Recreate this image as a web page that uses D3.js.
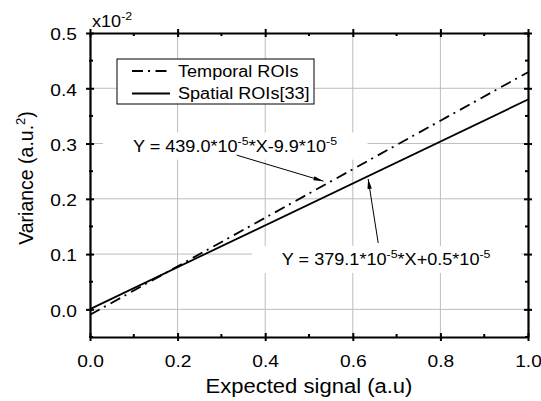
<!DOCTYPE html>
<html>
<head>
<meta charset="utf-8">
<script src="https://cdn.jsdelivr.net/npm/d3@7"></script>
<style>
  body { margin: 0; background: #fff; }
  text { font-family: "Liberation Sans", Arial, sans-serif; fill: #000; }
</style>
</head>
<body>
<svg id="chart" width="541" height="401"></svg>
<script>
// series (y in units of 1e-2)
const xValues = [0.0, 1.0];
const temporalY = [-0.0099, 0.4291];
const spatialY = [0.0005, 0.3796];
const seriesNames = ['Temporal ROIs', 'Spatial ROIs[33]'];

const xTicks = [0.0, 0.2, 0.4, 0.6, 0.8, 1.0];
const yTicks = [0.0, 0.1, 0.2, 0.3, 0.4, 0.5];
const xMinor = [0.1, 0.3, 0.5, 0.7, 0.9];
const yMinor = [-0.05, 0.05, 0.15, 0.25, 0.35, 0.45];

// annotations: text parts, label anchor, arrow tail, arrow head (data units)
const notes = [
  { parts: ['Y = 439.0*10', '-5', '*X-9.9*10', '-5'], at: [0.098, 0.285], from: [0.335, 0.279], to: [0.533, 0.232] },
  { parts: ['Y = 379.1*10', '-5', '*X+0.5*10', '-5'], at: [0.438, 0.080], from: [0.658, 0.120], to: [0.635, 0.236] }
];

const margin = { top: 33, right: 13, bottom: 64, left: 90 };
const width = 541, height = 401;
const SX = 1.13;            // the original's lettering is a bit wide
const DASH = '11,5,2,5.5';

const svg = d3.select('#chart');
const x = d3.scaleLinear().domain([0, 1]).range([margin.left, width - margin.right]);
const y = d3.scaleLinear().domain([-0.05, 0.5]).range([height - margin.bottom, margin.top]);

const [x0, x1] = x.range();
const [y0, y1] = y.range();

// widen a text horizontally around its own x anchor
function widen(sel, sx) {
  sel.each(function () {
    const ax = +(this.getAttribute('x') || 0);
    d3.select(this).attr('transform', `translate(${ax},0) scale(${sx},1) translate(${-ax},0)`);
  });
}

// grid
svg.append('g').selectAll('line').data(xTicks.slice(1, -1)).join('line')
  .attr('x1', d => x(d)).attr('x2', d => x(d)).attr('y1', y0).attr('y2', y1)
  .attr('stroke', '#bdbdbd').attr('stroke-width', 1);
svg.append('g').selectAll('line').data(yTicks.slice(0, -1)).join('line')
  .attr('y1', d => y(d)).attr('y2', d => y(d)).attr('x1', x0).attr('x2', x1)
  .attr('stroke', '#bdbdbd').attr('stroke-width', 1);

// lines
const line = d3.line().x(d => x(d[0])).y(d => y(d[1]));
svg.append('path')
  .datum(d3.zip(xValues, temporalY))
  .attr('d', line).attr('fill', 'none').attr('stroke', '#000')
  .attr('stroke-width', 1.8).attr('stroke-dasharray', DASH);
svg.append('path')
  .datum(d3.zip(xValues, spatialY))
  .attr('d', line).attr('fill', 'none').attr('stroke', '#000')
  .attr('stroke-width', 1.8);

// equation labels on white boxes
notes.forEach(n => {
  const g = svg.append('g')
    .attr('transform', `translate(${x(n.at[0])},${y(n.at[1])}) scale(${SX},1)`);
  const box = g.append('rect').attr('fill', '#fff');
  const t = g.append('text').attr('font-size', 16);
  n.parts.forEach((p, i) => {
    const sup = i % 2 === 1;
    t.append('tspan').text(p)
      .attr('font-size', sup ? 11 : 16)
      .attr('dy', sup ? -7 : (i > 0 ? 7 : 0));
  });
  const b = t.node().getBBox();
  const px = 30 / SX;
  box.attr('x', b.x - px).attr('y', b.y - 2)
    .attr('width', b.width + 2 * px).attr('height', b.height + 6);
});

// arrows
svg.append('defs').append('marker').attr('id', 'arr')
  .attr('viewBox', '0 0 10 6').attr('refX', 10).attr('refY', 3)
  .attr('markerWidth', 10).attr('markerHeight', 6).attr('markerUnits', 'userSpaceOnUse')
  .attr('orient', 'auto')
  .append('path').attr('d', 'M0,0.8 L10,3 L0,5.2 Z').attr('fill', '#000');
notes.forEach(n => {
  svg.append('line')
    .attr('x1', x(n.from[0])).attr('y1', y(n.from[1]))
    .attr('x2', x(n.to[0])).attr('y2', y(n.to[1]))
    .attr('stroke', '#000').attr('stroke-width', 1)
    .attr('marker-end', 'url(#arr)');
});

// axes: bottom/left labelled, top/right mirrored
const axBottom = svg.append('g').attr('transform', `translate(0,${y0})`)
  .call(d3.axisBottom(x).tickValues(xTicks).tickFormat(d3.format('.1f')).tickSizeInner(-4).tickSizeOuter(0).tickPadding(18));
const axTop = svg.append('g').attr('transform', `translate(0,${y1})`)
  .call(d3.axisTop(x).tickValues(xTicks).tickFormat('').tickSizeInner(-4).tickSizeOuter(0));
const axLeft = svg.append('g').attr('transform', `translate(${x0},0)`)
  .call(d3.axisLeft(y).tickValues(yTicks).tickFormat(d3.format('.1f')).tickSizeInner(-4).tickSizeOuter(0).tickPadding(13));
const axRight = svg.append('g').attr('transform', `translate(${x1},0)`)
  .call(d3.axisRight(y).tickValues(yTicks).tickFormat('').tickSizeInner(-4).tickSizeOuter(0));

[axBottom, axTop, axLeft, axRight].forEach(g => {
  g.select('.domain').attr('stroke', '#000').attr('stroke-width', 2.2);
  g.selectAll('.tick line').attr('stroke', '#000').attr('stroke-width', 2);
  g.selectAll('.tick text').attr('font-size', 17).attr('font-family', '"Liberation Sans", Arial, sans-serif').attr('fill', '#000');
});
axBottom.selectAll('.tick line').attr('y1', 4);
axTop.selectAll('.tick line').attr('y1', -4);
axLeft.selectAll('.tick line').attr('x1', -4);
axRight.selectAll('.tick line').attr('x1', 4);
axLeft.selectAll('.tick text').attr('dy', '0.4em');
widen(axBottom.selectAll('.tick text'), SX);
widen(axLeft.selectAll('.tick text'), SX);

// minor ticks
const minorG = svg.append('g').attr('stroke', '#000').attr('stroke-width', 2);
xMinor.forEach(v => {
  minorG.append('line').attr('x1', x(v)).attr('x2', x(v)).attr('y1', y0).attr('y2', y0 - 3);
  minorG.append('line').attr('x1', x(v)).attr('x2', x(v)).attr('y1', y1).attr('y2', y1 + 3);
});
yMinor.forEach(v => {
  minorG.append('line').attr('y1', y(v)).attr('y2', y(v)).attr('x1', x0 - 1).attr('x2', x0 + 3);
  minorG.append('line').attr('y1', y(v)).attr('y2', y(v)).attr('x1', x1 + 1).attr('x2', x1 - 3);
});

// axis titles
const xt = svg.append('text')
  .attr('x', (x0 + x1) / 2).attr('y', 393)
  .attr('text-anchor', 'middle').attr('font-size', 19.5)
  .text('Expected signal (a.u)');
widen(xt, SX);
const yt = svg.append('text')
  .attr('transform', `translate(33,178) rotate(-90)`)
  .attr('text-anchor', 'middle').attr('font-size', 19.5);
yt.append('tspan').text('Variance (a.u.');
yt.append('tspan').text('2').attr('font-size', 13).attr('dy', -8);
yt.append('tspan').text(')').attr('dy', 8);

// exponent label
const ex = svg.append('text').attr('x', x0 + 2).attr('y', 27).attr('font-size', 16);
ex.append('tspan').text('x10');
ex.append('tspan').text('-2').attr('font-size', 11).attr('dy', -7);
widen(ex, SX);

// legend
const lg = svg.append('g').attr('transform', 'translate(117,59)');
lg.append('rect').attr('width', 197).attr('height', 45)
  .attr('fill', '#fff').attr('stroke', '#000').attr('stroke-width', 1);
seriesNames.forEach((name, i) => {
  const yy = 12 + i * 22.5;
  lg.append('line').attr('x1', 15).attr('x2', 53).attr('y1', yy).attr('y2', yy)
    .attr('stroke', '#000').attr('stroke-width', 1.8)
    .attr('stroke-dasharray', i === 0 ? DASH : null);
  const t = lg.append('text').attr('x', 61).attr('y', yy).attr('dy', '0.36em')
    .attr('font-size', 16).text(name);
  widen(t, SX);
});
</script>
</body>
</html>
